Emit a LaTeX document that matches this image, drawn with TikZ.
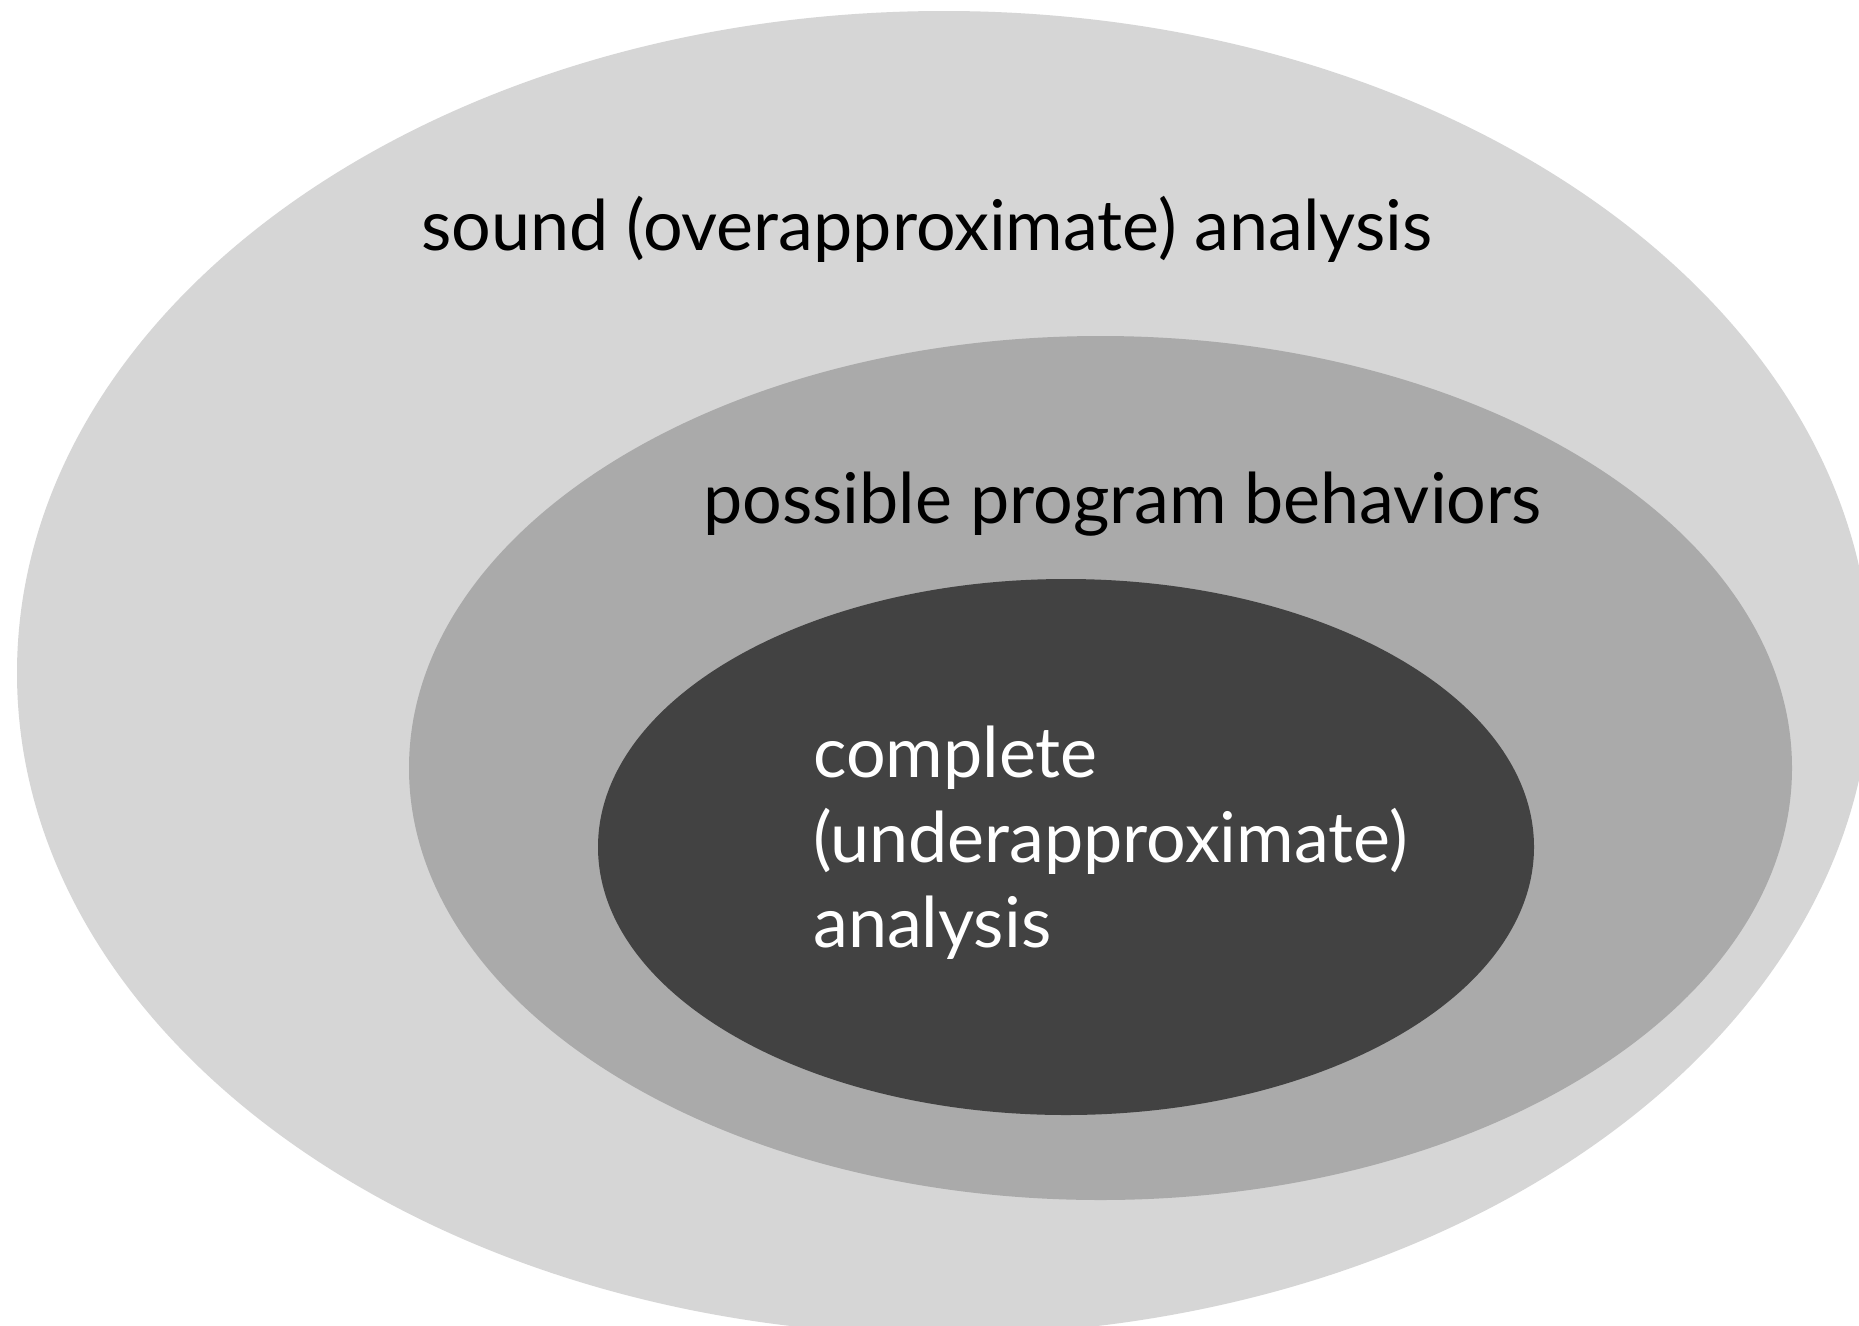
\documentclass[tikz,border=0pt]{standalone}
\usepackage{fontspec}
\setmainfont{Lato}
\usetikzlibrary{shapes.geometric}
\definecolor{outerfill}{HTML}{D6D6D6}
\definecolor{midfill}{HTML}{AAAAAA}
\definecolor{innerfill}{HTML}{424242}
\begin{document}
\begin{tikzpicture}[x=1pt,y=-1pt,
  region/.style={ellipse, draw=none, inner sep=0pt, outer sep=0pt},
  label/.style={anchor=base west, inner sep=0pt, font=\fontsize{70}{84}\selectfont}]
\useasboundingbox (0,0) rectangle (1859,1325);
\fill[white] (0,0) rectangle (1859,1325);
\clip (0,0) rectangle (1859,1325);
\node[region, fill=outerfill, minimum width=1854pt, minimum height=1324pt] (outer) at (944,673) {};
\node[region, fill=midfill, minimum width=1383pt, minimum height=864pt] (mid) at (1100.5,768) {};
\node[region, fill=innerfill, minimum width=936pt, minimum height=536pt] (inner) at (1066,847) {};
\node[label, text=black] (soundlbl) at (421,250) {sound (overapproximate) analysis};
\node[label, text=black] (possiblelbl) at (703,523) {possible program behaviors};
\node[label, text=white] (complete1) at (813,777) {complete};
\node[label, text=white] (complete2) at (813,862) {(underapproximate)};
\node[label, text=white] (complete3) at (813,947) {analysis};
\end{tikzpicture}
\end{document}
